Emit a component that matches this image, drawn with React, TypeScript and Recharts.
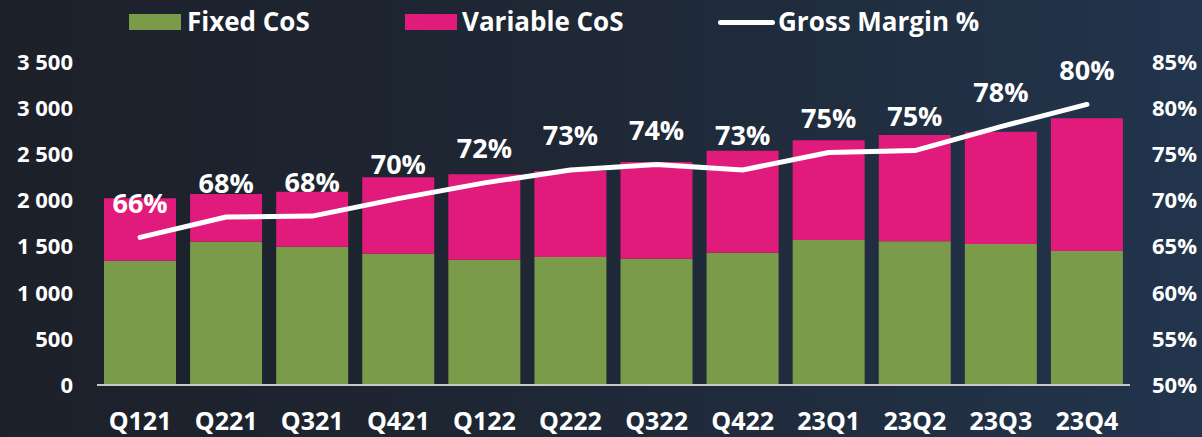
import { ComposedChart, Bar, Line, XAxis, YAxis, LabelList } from "recharts";

const quarters = ["Q121", "Q221", "Q321", "Q421", "Q122", "Q222", "Q322", "Q422", "23Q1", "23Q2", "23Q3", "23Q4"];
const fixedCos = [1347, 1553, 1499, 1423, 1358, 1387, 1369, 1434, 1571, 1557, 1528, 1452];
const variableCos = [676, 517, 596, 828, 925, 932, 1047, 1105, 1081, 1152, 1217, 1438];
const grossMargin = [66.0, 68.2, 68.3, 70.2, 71.9, 73.3, 73.9, 73.3, 75.2, 75.4, 78.0, 80.4];

const leftTicks = [0, 500, 1000, 1500, 2000, 2500, 3000, 3500];
const rightTicks = [50, 55, 60, 65, 70, 75, 80, 85];

const GREEN = "#7a9b4a";
const PINK = "#e01b7b";
const FONT = "'Open Sans', sans-serif";

const data = quarters.map((q, i) => ({
  name: q,
  fixed: fixedCos[i],
  variable: variableCos[i],
  margin: grossMargin[i],
}));

const fmtThousands = (v: number) => (v >= 1000 ? `${Math.floor(v / 1000)} ${String(v % 1000).padStart(3, "0")}` : `${v}`);

// percent label sits ~35px above each point of the line
const MarginLabel = (props: any) => {
  const { x, y, value } = props;
  return (
    <text
      x={x}
      y={y - 35}
      textAnchor="middle"
      dominantBaseline="central"
      fill="#ffffff"
      fontSize={27}
      fontWeight={700}
      fontFamily={FONT}
    >
      {`${Math.round(value)}%`}
    </text>
  );
};

const legendText = { position: "absolute" as const, top: 3, color: "#fff", fontSize: 26, fontWeight: 700, fontFamily: FONT, lineHeight: "36px" };

export default function App() {
  return (
    <div
      style={{
        position: "absolute",
        left: 0,
        top: 0,
        width: 1202,
        height: 437,
        background: "linear-gradient(90deg, #1c2029 0%, #1f2836 50%, #22354d 100%)",
        overflow: "hidden",
      }}
    >
      {/* Legend */}
      <div style={{ position: "absolute", left: 129, top: 14, width: 52, height: 16, background: GREEN }} />
      <div style={{ ...legendText, left: 187 }}>Fixed CoS</div>
      <div style={{ position: "absolute", left: 405, top: 14, width: 52, height: 16, background: PINK }} />
      <div style={{ ...legendText, left: 462 }}>Variable CoS</div>
      <div style={{ position: "absolute", left: 718, top: 20, width: 57, height: 5, background: "#fff", borderRadius: 3 }} />
      <div style={{ ...legendText, left: 778 }}>Gross Margin %</div>

      <ComposedChart
        width={1202}
        height={437}
        data={data}
        margin={{ top: 62, right: 0, bottom: 0, left: 0 }}
        barSize={72}
      >
        <XAxis
          dataKey="name"
          height={52}
          tickLine={false}
          axisLine={{ stroke: "#c8c8c8", strokeWidth: 2 }}
          tickMargin={21}
          tick={{ fill: "#fff", fontSize: 25, fontWeight: 700, fontFamily: FONT }}
        />
        <YAxis
          yAxisId="left"
          width={97}
          domain={[0, 3500]}
          ticks={leftTicks}
          tickFormatter={fmtThousands}
          tickLine={false}
          axisLine={false}
          tickMargin={18}
          tick={{ fill: "#fff", fontSize: 22, fontWeight: 700, fontFamily: FONT }}
        />
        <YAxis
          yAxisId="right"
          orientation="right"
          width={72}
          domain={[50, 85]}
          ticks={rightTicks}
          tickFormatter={(v: number) => `${v}%`}
          tickLine={false}
          axisLine={false}
          tickMargin={16}
          tick={{ fill: "#fff", fontSize: 22, fontWeight: 700, fontFamily: FONT, textAnchor: "start" }}
        />
        <Bar yAxisId="left" dataKey="fixed" stackId="cos" fill={GREEN} isAnimationActive={false} />
        <Bar yAxisId="left" dataKey="variable" stackId="cos" fill={PINK} isAnimationActive={false} />
        <Line
          yAxisId="right"
          dataKey="margin"
          stroke="#ffffff"
          strokeWidth={5}
          strokeLinecap="round"
          strokeLinejoin="round"
          dot={false}
          isAnimationActive={false}
        >
          <LabelList dataKey="margin" content={MarginLabel} />
        </Line>
      </ComposedChart>
    </div>
  );
}
